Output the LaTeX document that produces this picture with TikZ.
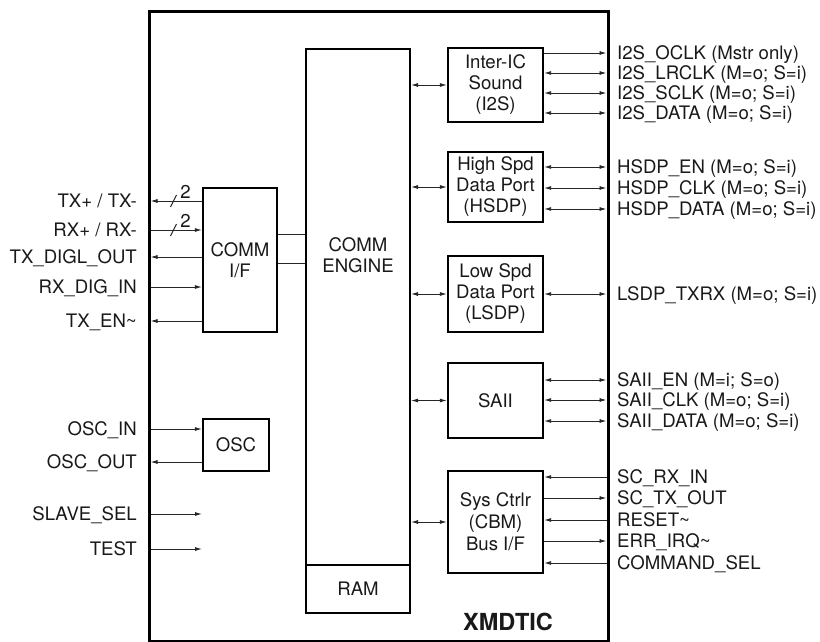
\documentclass[tikz,border=0pt]{standalone}
\usepackage{fontspec}
\setmainfont{TeX Gyre Heros}
\usetikzlibrary{arrows.meta}
\begin{document}
\begin{tikzpicture}[x=1pt,y=-1pt,
  txt/.style={font=\fontsize{18.6pt}{21pt}\selectfont, text=black!90},
  blk/.style={txt, draw, line width=2.3pt, align=center, inner sep=0pt},
  lbl/.style={txt, inner sep=0pt},
  sig/.style={line width=0.9pt, draw=black!85},
  >={Latex[length=7pt,width=4pt]}]
\useasboundingbox (0,0) rectangle (820,642);
% chip outline
\node[draw, line width=3pt, minimum width=459pt, minimum height=629pt, inner sep=0pt] (chip) at (378.5,326.5) {};
% engine
\node[draw, line width=2pt, minimum width=104pt, minimum height=564pt, inner sep=0pt] (engine) at (358,331) {};
\draw[line width=2pt] (engine.west |- 0,565) -- (engine.east |- 0,565);
\node[lbl, align=center] (engtxt) at (358,255) {COMM\\ENGINE};
\node[lbl] (ram) at (358,589) {RAM};
% left blocks
\node[blk, minimum width=74pt, minimum height=144pt] (comm) at (240,260) {COMM\\I/F};
\node[blk, minimum width=66pt, minimum height=52pt] (osc) at (236,445) {OSC};
% right blocks
\node[blk, minimum width=95pt, minimum height=74pt] (i2s) at (495.5,85) {Inter-IC\\Sound\\(I2S)};
\node[blk, minimum width=95pt, minimum height=70pt] (hsdp) at (495.5,187) {High Spd\\Data Port\\(HSDP)};
\node[blk, minimum width=95pt, minimum height=76pt] (lsdp) at (495.5,294) {Low Spd\\Data Port\\(LSDP)};
\node[blk, minimum width=95pt, minimum height=75pt] (saii) at (495.5,400.5) {SAII};
\node[blk, minimum width=95pt, minimum height=102pt, text depth=0pt] (sys) at (495.5,522) {Sys Ctrlr\\[1pt](CBM)\\[1pt]Bus I/F};
% comm i/f to engine
\draw[sig] (comm.east |- 0,234) -- (engine.west |- 0,234);
\draw[sig] (comm.east |- 0,263) -- (engine.west |- 0,263);
% engine to right blocks
\foreach \b in {i2s,hsdp,lsdp,saii,sys}
  \draw[sig,<->] (engine.east |- \b.west) -- (\b.west);
% right signals
\foreach \y/\b/\s/\t [count=\i] in {
  53/i2s/->/I2S\_OCLK (Mstr only),
  73/i2s/<->/I2S\_LRCLK (M=o; S=i),
  93/i2s/<->/I2S\_SCLK (M=o; S=i),
  113/i2s/<->/I2S\_DATA (M=o; S=i),
  167/hsdp/<->/HSDP\_EN (M=o; S=i),
  188/hsdp/<->/HSDP\_CLK (M=o; S=i),
  209/hsdp/<->/HSDP\_DATA (M=o; S=i),
  294/lsdp/<->/LSDP\_TXRX (M=o; S=i),
  380/saii/<->/SAII\_EN (M=i; S=o),
  400/saii/<->/SAII\_CLK (M=o; S=i),
  421/saii/<->/SAII\_DATA (M=o; S=i),
  477/sys/<-/SC\_RX\_IN,
  498/sys/->/SC\_TX\_OUT,
  520/sys/<-/RESET\textasciitilde,
  541/sys/->/ERR\_IRQ\textasciitilde,
  563/sys/<-/COMMAND\_SEL}
{
  \coordinate (rp\i) at (606.5,\y);
  \node[lbl, anchor=base west] (rl\i) at (617,\y+6.6) {\t};
  \draw[sig,\s] (\b.east |- rp\i) -- (rp\i);
}
% left signals
\foreach \y/\b/\s/\t [count=\i] in {
  201/comm/<-/{TX+ / TX-},
  230/comm/->/{RX+ / RX-},
  257/comm/<-/TX\_DIGL\_OUT,
  287/comm/->/RX\_DIG\_IN,
  321/comm/<-/TX\_EN\textasciitilde,
  429/osc/->/OSC\_IN,
  462/osc/<-/OSC\_OUT}
{
  \coordinate (lp\i) at (150.5,\y);
  \node[lbl, anchor=base east] (ll\i) at (137,\y+6.6) {\t};
  \draw[sig,\s] (lp\i) -- (\b.west |- lp\i);
}
\coordinate (lp8) at (150.5,514);
\coordinate (e8) at (202,514);
\node[lbl, anchor=base east] (ll8) at (137,520.6) {SLAVE\_SEL};
\draw[sig,->] (lp8) -- (e8);
\coordinate (lp9) at (150.5,549);
\coordinate (e9) at (202,549);
\node[lbl, anchor=base east] (ll9) at (137,555.6) {TEST};
\draw[sig,->] (lp9) -- (e9);
% bus width marks
\draw[sig] ([shift={(20,6)}]lp1) -- ++(6,-12);
\node[lbl] (w1) at ([shift={(35,-9)}]lp1) {2};
\draw[sig] ([shift={(20,6)}]lp2) -- ++(6,-12);
\node[lbl] (w2) at ([shift={(35,-9)}]lp2) {2};
% chip name
\node[txt, font=\fontsize{23.5pt}{26pt}\selectfont\bfseries, anchor=base] (name) at (508,630.5) {XMDTIC};
\end{tikzpicture}
\end{document}
